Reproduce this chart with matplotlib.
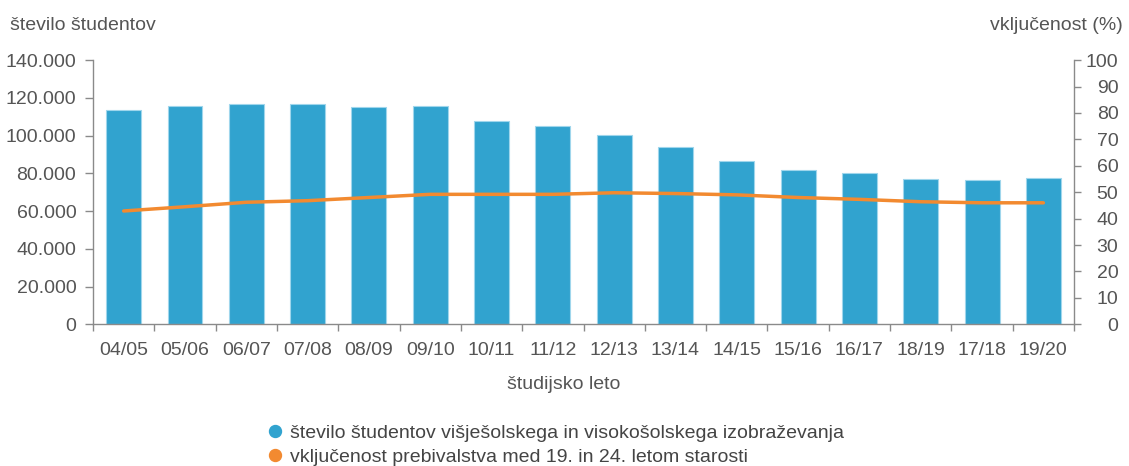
import matplotlib
matplotlib.use("Agg")
import matplotlib.pyplot as plt
from matplotlib.ticker import FuncFormatter, FixedLocator
from matplotlib.lines import Line2D

plt.rcParams['font.family'] = ['Liberation Sans', 'DejaVu Sans']

categories = ["04/05", "05/06", "06/07", "07/08", "08/09", "09/10", "10/11", "11/12",
              "12/13", "13/14", "14/15", "15/16", "16/17", "18/19", "17/18", "19/20"]
students = [113500, 115800, 117000, 116500, 115300, 115800, 107800, 104900,
            100400, 93900, 86300, 81600, 80100, 77100, 76600, 77600]
inclusion = [42.9, 44.5, 46.2, 46.8, 48.0, 49.2, 49.2, 49.2,
             49.8, 49.5, 49.0, 48.0, 47.3, 46.4, 46.0, 46.0]

bar_color = "#31a3cf"
line_color = "#f28a30"
txt = "#555555"
spine_c = "#8a8a8a"
FS = 14

fig = plt.figure(figsize=(11.29, 4.66), dpi=100)
ax = fig.add_axes([0.0824, 0.304, 0.8689, 0.567])
x = list(range(len(categories)))
ax.bar(x, students, width=0.57, color=bar_color, edgecolor="#9fd6ec", linewidth=0.8, zorder=2)
ax.set_xlim(-0.5, len(categories) - 0.5)
ax.set_ylim(0, 140000)
ax.set_yticks(range(0, 140001, 20000))
ax.yaxis.set_major_formatter(FuncFormatter(lambda v, p: "0" if v == 0 else f"{int(v):,}".replace(",", ".")))
ax.set_xticks(x)
ax.set_xticklabels(categories)
ax.xaxis.set_minor_locator(FixedLocator([i - 0.5 for i in range(len(categories) + 1)]))
ax.tick_params(axis='x', which='major', length=0, pad=13, labelsize=FS, labelcolor=txt)
ax.tick_params(axis='x', which='minor', length=5, width=1, color=spine_c)
ax.tick_params(axis='y', length=6, width=1, color=spine_c, labelsize=FS, labelcolor=txt, pad=6)
for s in ["top", "right"]:
    ax.spines[s].set_visible(False)
for s in ["left", "bottom"]:
    ax.spines[s].set_color(spine_c)
    ax.spines[s].set_linewidth(1)

ax2 = ax.twinx()
ax2.plot(x, inclusion, color=line_color, linewidth=2.5, zorder=3, solid_capstyle='round')
ax2.set_ylim(0, 100)
ax2.set_yticks(range(0, 101, 10))
ax2.tick_params(axis='y', length=5, width=1, color=spine_c, labelsize=FS, labelcolor=txt, pad=27)
for lbl in ax2.get_yticklabels():
    lbl.set_horizontalalignment('right')
for s in ["top", "left", "bottom"]:
    ax2.spines[s].set_visible(False)
ax2.spines["right"].set_color(spine_c)
ax2.spines["right"].set_linewidth(1)

fig.text(0.0089, 0.935, "število študentov", fontsize=FS, color=txt, ha="left", va="baseline")
fig.text(0.9947, 0.935, "vključenost (%)", fontsize=FS, color=txt, ha="right", va="baseline")
fig.text(0.4996, 0.174, "študijsko leto", fontsize=FS, color=txt, ha="center", va="center")

handles = [Line2D([], [], marker='o', linestyle='none', markersize=8.6, color=bar_color),
           Line2D([], [], marker='o', linestyle='none', markersize=8.6, color=line_color)]
labels = ["število študentov višješolskega in visokošolskega izobraževanja",
          "vključenost prebivalstva med 19. in 24. letom starosti"]
leg = fig.legend(handles, labels, loc="center left", bbox_to_anchor=(0.2376, 0.045),
                 frameon=False, fontsize=FS, handletextpad=0.42, labelspacing=0.35,
                 handlelength=0.7, borderaxespad=0, borderpad=0)
for t in leg.get_texts():
    t.set_color("#444444")

fig.savefig("out.png", dpi=100)
